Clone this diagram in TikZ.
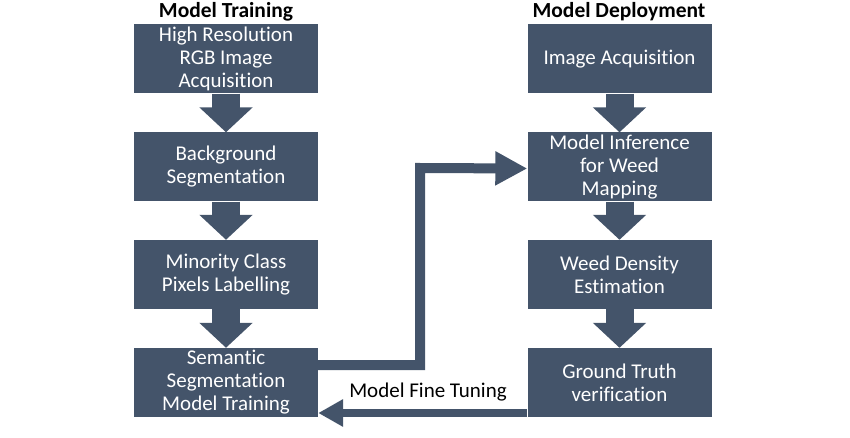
\documentclass[tikz,border=0pt]{standalone}
\usepackage{fontspec}
\setmainfont{Carlito}[Ligatures=NoCommon]
\usepackage{tikz}
\usetikzlibrary{arrows.meta}
\definecolor{slate}{HTML}{44546A}

\begin{document}
\begin{tikzpicture}[x=1pt, y=-1pt,
		box/.style={rectangle, fill=slate, text=white, align=center, minimum width=184pt, minimum height=69pt, inner sep=0pt, font=\fontsize{21}{23}\selectfont},
		title/.style={font=\bfseries\fontsize{21.5}{24}\selectfont},
		flow/.style={slate, line width=28pt, -{Triangle[width=52pt, length=25pt]}},
		feed/.style={slate, line width=10pt, -{Triangle[width=32pt, length=32pt]}},
		back/.style={slate, line width=8pt, -{Triangle[width=26pt, length=25pt]}}]
		\useasboundingbox (0,0) rectangle (850,438);
		\node[title] (t1) at (226,12) {Model Training};
		\node[title] (t2) at (619,12) {Model Deployment};
		\node[box] (1) at (226,59) {High Resolution\\RGB Image\\Acquisition};
		\node[box] (2) at (226,167) {Background\\Segmentation};
		\node[box] (3) at (226,274.5) {Minority Class\\Pixels Labelling};
		\node[box] (4) at (226,382.5) {Semantic\\Segmentation\\Model Training};
		\node[box] (5) at (619.5,59) {Image Acquisition};
		\node[box] (6) at (619.5,167) {Model Inference\\for Weed\\Mapping};
		\node[box] (7) at (619.5,274.5) {Weed Density\\Estimation};
		\node[box] (8) at (619.5,382.5) {Ground Truth\\verification};
		\node[font=\fontsize{21}{23}\selectfont] (9) at (428,392) {Model Fine Tuning};
		\coordinate (bend) at (420,168);
		
		\path (1) edge[flow] (2);
		\path (2) edge[flow] (3);
		\path (3) edge[flow] (4);
		\path (5) edge[flow] (6);
		\path (6) edge[flow] (7);
		\path (7) edge[flow] (8);
		\draw[feed] ([yshift=17.5pt]4.east) -| (bend) -- ([yshift=-1.5pt]6.west);
		\draw[back] ([yshift=-30.5pt]8.west) -- ([yshift=-30.5pt]4.east);
		
	\end{tikzpicture}
\end{document}
